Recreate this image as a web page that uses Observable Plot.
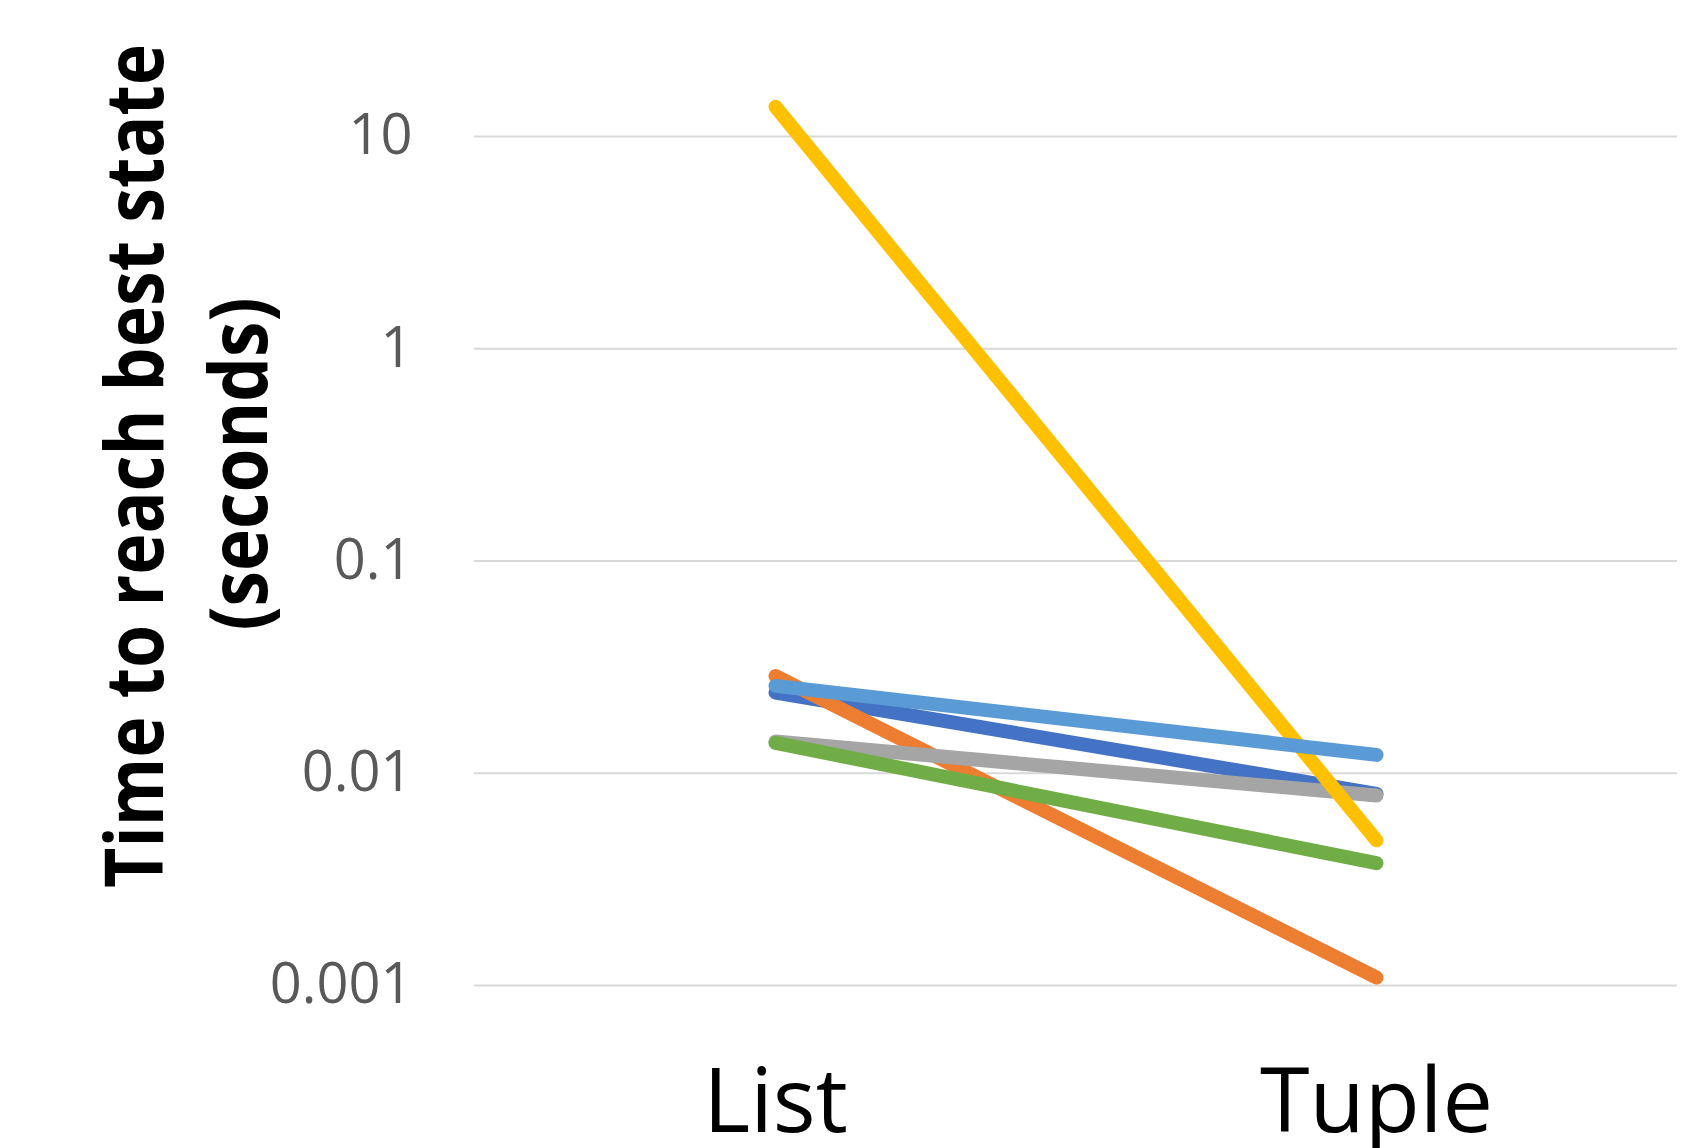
<!DOCTYPE html>
<html>
<head>
<meta charset="utf-8">
<script src="https://cdn.jsdelivr.net/npm/d3@7"></script>
<script src="https://cdn.jsdelivr.net/npm/@observablehq/plot@0.6"></script>
<style>
  html, body { margin: 0; padding: 0; background: #fff; }
  #chart svg { display: block; }
</style>
</head>
<body>
<div id="chart"></div>
<script>
// Categories on the x axis
const categories = ["List", "Tuple"];
// Series (Excel default palette order)
const seriesNames = ["Series 1", "Series 2", "Series 3", "Series 4", "Series 5", "Series 6"];
const seriesColors = ["#4472C4", "#ED7D31", "#A5A5A5", "#FFC000", "#5B9BD5", "#70AD47"];
// Values (seconds)
const listValues  = [0.024, 0.0287, 0.0141, 13.8, 0.0258, 0.0139];
const tupleValues = [0.0080, 0.00109, 0.00785, 0.00483, 0.0122, 0.00377];
// Y ticks and their labels
const yTicks = [0.001, 0.01, 0.1, 1, 10];
const yTickLabels = ["0.001", "0.01", "0.1", "1", "10"];
// Axis title lines
const yTitleLines = ["Time to reach best state", "(seconds)"];

const rows = [];
seriesNames.forEach((s, i) => {
  rows.push({series: s, category: categories[0], value: listValues[i]});
  rows.push({series: s, category: categories[1], value: tupleValues[i]});
});

const font = "'Open Sans', 'DejaVu Sans', sans-serif";

const chart = Plot.plot({
  width: 1707,
  height: 1148,
  marginLeft: 474,
  marginRight: 30,
  marginTop: 136,
  marginBottom: 163,
  style: {fontFamily: font, background: "#fff"},
  x: {type: "point", domain: categories, padding: 0.5, label: null},
  y: {type: "log", domain: [0.001, 10], label: null},
  color: {domain: seriesNames, range: seriesColors},
  marks: [
    Plot.ruleY(yTicks, {stroke: "#D9D9D9", strokeWidth: 2}),
    Plot.axisY(yTicks, {
      tickSize: 0, tickPadding: 62, fontSize: 56, color: "#595959", label: null,
      tickFormat: d => yTickLabels[yTicks.indexOf(d)]
    }),
    Plot.axisX({tickSize: 0, tickPadding: 83, fontSize: 90, color: "#000", label: null}),
    Plot.line(rows, {
      x: "category", y: "value", z: "series", stroke: "series",
      strokeWidth: 14, strokeLinecap: "round", strokeLinejoin: "round"
    }),
    Plot.text([yTitleLines[0]], {
      text: d => d, frameAnchor: "left", rotate: -90, dx: -337, dy: -95,
      fontSize: 80, fontWeight: "bold", fill: "#000", lineAnchor: "middle",
      textAnchor: "middle", className: "ytitle1"
    }),
    Plot.text([yTitleLines[1]], {
      text: d => d, frameAnchor: "left", rotate: -90, dx: -233, dy: -97,
      fontSize: 80, fontWeight: "bold", fill: "#000", lineAnchor: "middle",
      textAnchor: "middle", className: "ytitle2"
    })
  ]
});

// Compress the bold title to match the narrow reference face
d3.select(chart).selectAll(".ytitle1 text").attr("textLength", 844).attr("lengthAdjust", "spacingAndGlyphs");
d3.select(chart).selectAll(".ytitle2 text").attr("textLength", 333).attr("lengthAdjust", "spacingAndGlyphs");

document.getElementById("chart").appendChild(chart);
</script>
</body>
</html>
